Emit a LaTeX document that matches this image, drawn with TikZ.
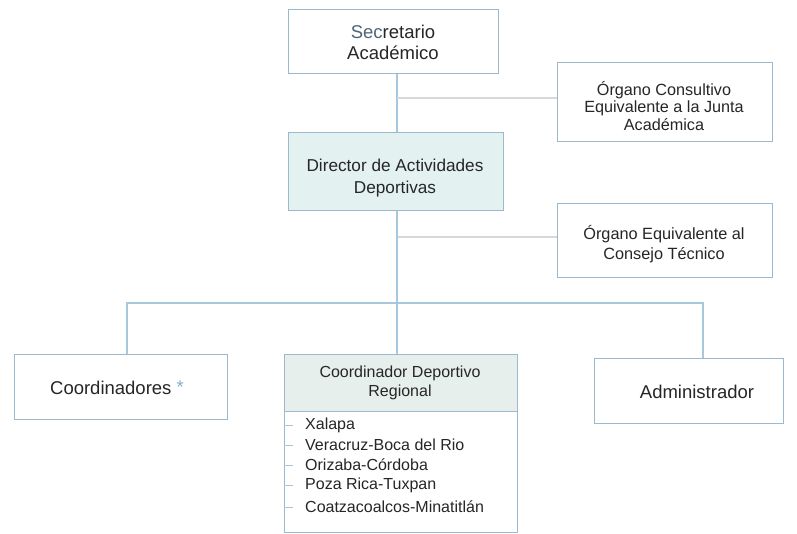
\documentclass[tikz,border=0pt]{standalone}
\usepackage{fontspec}
\setmainfont{Liberation Sans}
\definecolor{boxc}{HTML}{9DB9CD}
\definecolor{connc}{HTML}{A6C7DD}
\definecolor{sidec}{HTML}{D6D9DC}
\definecolor{txt}{HTML}{262626}
\definecolor{slate}{HTML}{4E6577}
\definecolor{tealfill}{HTML}{E4F1F1}
\definecolor{hdrfill}{HTML}{E6EFEC}
\definecolor{starc}{HTML}{86AECB}
\begin{document}
\begin{tikzpicture}[x=1pt,y=-1pt,
  box/.style={draw=boxc, line width=1.3pt, fill=white, inner sep=0pt, anchor=north west},
  lbl/.style={text=txt, align=center, inner sep=0pt},
  conn/.style={draw=connc, line width=1.4pt},
  side/.style={draw=sidec, line width=1.2pt},
  item/.style={anchor=west, text=txt, inner sep=0pt, font=\fontsize{16}{17}\selectfont},
  tick/.style={draw=connc, line width=1pt}
]
\useasboundingbox (0,0) rectangle (797,534);

\node[box, minimum width=210pt, minimum height=64pt] (sec) at (288,9) {};
\node[lbl, font=\fontsize{18.5}{21}\selectfont] (sect) at (393,42) {{\color{slate}Sec}retario\\Académico};

\node[box, minimum width=215pt, minimum height=79pt] (cons) at (557,62) {};
\node[lbl, font=\fontsize{16.2}{17.5}\selectfont] (const) at (664,106) {Órgano Consultivo\\Equivalente a la Junta\\Académica};

\node[box, fill=tealfill, minimum width=215pt, minimum height=78pt] (dir) at (288,132) {};
\node[lbl, font=\fontsize{17.2}{21.5}\selectfont] (dirt) at (395,178) {Director de Actividades\\Deportivas};

\node[box, minimum width=215pt, minimum height=74pt] (tec) at (557,203) {};
\node[lbl, font=\fontsize{16.3}{20}\selectfont] (tect) at (664,244) {Órgano Equivalente al\\Consejo Técnico};

\node[box, minimum width=213pt, minimum height=65pt] (coord) at (14,354) {};
\node[lbl, font=\fontsize{18.5}{20}\selectfont] (coordt) at (117,388) {Coordinadores {\color{starc}\raisebox{1pt}{*}}};

\node[box, minimum width=189pt, minimum height=65pt] (adm) at (594,358) {};
\node[lbl, font=\fontsize{18.5}{20}\selectfont] (admt) at (697,392) {Administrador};

\node[box, minimum width=233pt, minimum height=121pt] (regb) at (284,411) {};
\node[box, fill=hdrfill, minimum width=233pt, minimum height=57pt] (reg) at (284,354) {};
\node[lbl, font=\fontsize{16}{19}\selectfont] (regt) at (400,383) {Coordinador Deportivo\\Regional};

\node[item] (i1) at (305,425) {Xalapa};
\node[item] (i2) at (305,445) {Veracruz-Boca del Rio};
\node[item] (i3) at (305,465) {Orizaba-Córdoba};
\node[item] (i4) at (305,485) {Poza Rica-Tuxpan};
\node[item] (i5) at (305,507) {Coatzacoalcos-Minatitlán};
\foreach \i in {1,...,5} {
  \draw[tick] (regb.west |- i\i.west) -- ++(9,0);
}

\coordinate (trunk) at (397,0);
\coordinate (cl) at (127,303);
\coordinate (cr) at (703,303);

\draw[conn] (trunk |- sec.south) -- (trunk |- dir.north);
\draw[side] (trunk |- 0,98) -- (cons.west |- 0,98);
\draw[side] (trunk |- 0,237) -- (tec.west |- 0,237);
\draw[conn] (trunk |- dir.south) -- (trunk |- reg.north);
\draw[conn] (cl |- coord.north) -- (cl) -- (cr) -- (cr |- adm.north);
\end{tikzpicture}
\end{document}
